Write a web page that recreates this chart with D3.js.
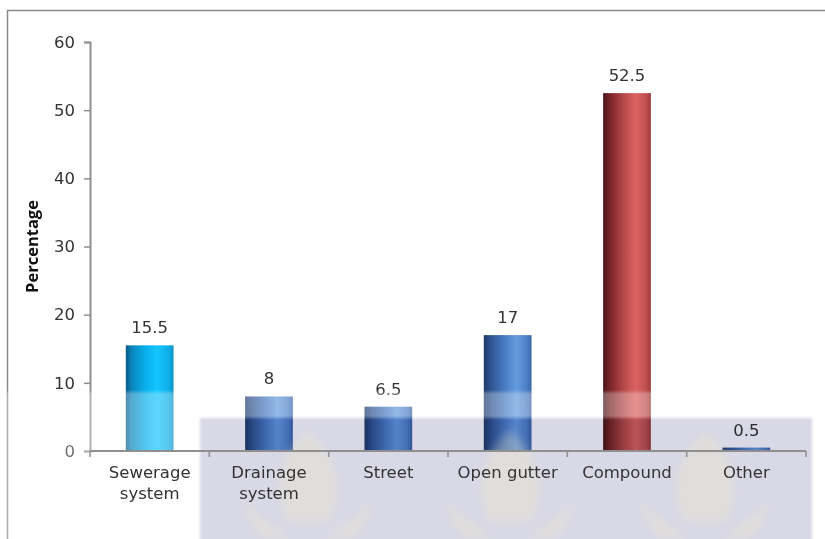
<!DOCTYPE html>
<html>
<head>
<meta charset="utf-8">
<script src="https://cdn.jsdelivr.net/npm/d3@7"></script>
<style>
  html, body { margin: 0; padding: 0; background: #fff; }
  svg { display: block; }
</style>
</head>
<body>
<svg id="chart" width="825" height="539"></svg>
<script>
// Drainage destination of household wastewater (percentage of respondents)
const categories = ["Sewerage system", "Drainage system", "Street", "Open gutter", "Compound", "Other"];
const values = [15.5, 8, 6.5, 17, 52.5, 0.5];
const colorKeys = ["cyan", "blue", "blue", "blue", "red", "blue"];
const yTicks = [0, 10, 20, 30, 40, 50, 60];
const yTitle = "Percentage";

const svg = d3.select("#chart");
const W = 825, H = 539;
const m = { left: 90, right: 19, top: 42, bottom: 88 };
const labelFont = "DejaVu Sans, Verdana, sans-serif";

const x = d3.scaleBand()
  .domain(categories)
  .range([m.left, W - m.right])
  .paddingInner(0.6)
  .paddingOuter(0.3);

const y = d3.scaleLinear()
  .domain([0, 60])
  .range([H - m.bottom, m.top]);

// Frame around the figure
svg.append("path")
  .attr("d", `M7.5,${H} V10.5 H${W}`)
  .attr("fill", "none")
  .attr("stroke", "#8a8a8a")
  .attr("stroke-width", 1.5);

// Horizontal cylinder-like shading for each colour family
const defs = svg.append("defs");
const shades = {
  cyan: [["0%", "#0a5a86"], ["12%", "#0b84bb"], ["40%", "#06aee8"], ["65%", "#15c6ff"], ["90%", "#10aee8"], ["100%", "#0b8fc4"]],
  blue: [["0%", "#1e3a68"], ["15%", "#2f5592"], ["45%", "#4a7dc4"], ["68%", "#649cdf"], ["90%", "#4e80c6"], ["100%", "#3b66a8"]],
  red:  [["0%", "#4a1518"], ["15%", "#7a2629"], ["45%", "#b94a4a"], ["68%", "#dd6262"], ["90%", "#c05050"], ["100%", "#9c3a3c"]]
};
Object.entries(shades).forEach(([k, stops]) => {
  const g = defs.append("linearGradient").attr("id", "g-" + k)
    .attr("x1", "0%").attr("x2", "100%").attr("y1", "0%").attr("y2", "0%");
  stops.forEach(([o, c]) => g.append("stop").attr("offset", o).attr("stop-color", c));
});
defs.append("filter").attr("id", "soft")
  .append("feGaussianBlur").attr("stdDeviation", 1.5);
defs.append("filter").attr("id", "softer")
  .append("feGaussianBlur").attr("stdDeviation", 4);

// Bars
svg.append("g")
  .selectAll("rect")
  .data(categories)
  .join("rect")
  .attr("x", d => x(d))
  .attr("width", x.bandwidth())
  .attr("y", (d, i) => y(values[i]))
  .attr("height", (d, i) => y(0) - y(values[i]))
  .attr("fill", (d, i) => `url(#g-${colorKeys[i]})`);

// Value labels
svg.append("g")
  .selectAll("text")
  .data(categories)
  .join("text")
  .attr("x", d => x(d) + x.bandwidth() / 2)
  .attr("y", (d, i) => y(values[i]) - 12)
  .attr("text-anchor", "middle")
  .attr("font-family", labelFont)
  .attr("font-size", 16.5)
  .attr("fill", "#333")
  .text((d, i) => values[i]);

// Y axis
const yAxis = svg.append("g")
  .attr("transform", `translate(${m.left},0)`)
  .call(d3.axisLeft(y).tickValues(yTicks).tickSize(6).tickPadding(9).tickFormat(d3.format("d")));
yAxis.select(".domain").attr("stroke", "#8f8f8f").attr("stroke-width", 2);
yAxis.selectAll(".tick line").attr("stroke", "#8f8f8f").attr("stroke-width", 1.5);
yAxis.selectAll(".tick text")
  .attr("font-family", labelFont)
  .attr("font-size", 16.5)
  .attr("fill", "#333");

// X axis with ticks at band boundaries
const xAxis = svg.append("g")
  .attr("transform", `translate(0,${y(0)})`);
xAxis.append("line")
  .attr("x1", m.left).attr("x2", W - m.right)
  .attr("stroke", "#8f8f8f").attr("stroke-width", 2);
const bounds = categories.map(d => x(d) - x.step() * x.paddingInner() / 2)
  .concat([W - m.right]);
xAxis.selectAll("line.tk")
  .data(bounds)
  .join("line")
  .attr("class", "tk")
  .attr("x1", d => d).attr("x2", d => d)
  .attr("y1", 0).attr("y2", 6)
  .attr("stroke", "#8f8f8f").attr("stroke-width", 1.5);
xAxis.selectAll("text")
  .data(categories)
  .join("text")
  .attr("x", d => x(d) + x.bandwidth() / 2)
  .attr("y", 27)
  .attr("text-anchor", "middle")
  .attr("font-family", labelFont)
  .attr("font-size", 16.5)
  .attr("fill", "#333")
  .each(function (d) {
    const lines = (d === "Open gutter") ? [d] : d.split(" ");
    d3.select(this).selectAll("tspan")
      .data(lines)
      .join("tspan")
      .attr("x", x(d) + x.bandwidth() / 2)
      .attr("dy", (l, i) => i === 0 ? 0 : 21)
      .text(l => l);
  });

// Y axis title
svg.append("text")
  .attr("transform", `translate(38,${(y(0) + y(60)) / 2}) rotate(-90)`)
  .attr("text-anchor", "middle")
  .attr("font-family", "Liberation Sans Narrow, Open Sans, sans-serif")
  .attr("font-weight", "bold")
  .attr("font-size", 16.5)
  .attr("fill", "#111")
  .text(yTitle);

// Institutional seal band across the lower part of the page
const seal = svg.append("g");
seal.append("path")
  .attr("d", `M0,392 H812 V418 H200 V${H + 10} H0 Z`)
  .attr("fill", "#fff").attr("opacity", 0.3)
  .attr("filter", "url(#soft)");
seal.append("rect")
  .attr("x", 200).attr("y", 418).attr("width", 612).attr("height", H - 418 + 10)
  .attr("fill", "#d8d8e7")
  .style("mix-blend-mode", "multiply")
  .attr("filter", "url(#soft)");
const leafCenters = [308, 510, 705];
const leaf = cx => {
  const p = d3.path();
  // central flame
  p.moveTo(cx, 430);
  p.bezierCurveTo(cx + 26, 455, cx + 38, 482, cx + 22, 522);
  p.lineTo(cx - 22, 522);
  p.bezierCurveTo(cx - 38, 482, cx - 26, 455, cx, 430);
  p.closePath();
  // side lobes
  p.moveTo(cx - 16, 539);
  p.bezierCurveTo(cx - 35, 525, cx - 55, 512, cx - 64, 500);
  p.bezierCurveTo(cx - 62, 522, cx - 50, 535, cx - 42, 539);
  p.closePath();
  p.moveTo(cx + 16, 539);
  p.bezierCurveTo(cx + 35, 525, cx + 55, 512, cx + 64, 500);
  p.bezierCurveTo(cx + 62, 522, cx + 50, 535, cx + 42, 539);
  p.closePath();
  return p.toString();
};
seal.selectAll("path.leaf")
  .data(leafCenters)
  .join("path")
  .attr("class", "leaf")
  .attr("d", d => leaf(d))
  .attr("fill", "#f3ebc0")
  .attr("opacity", 0.3)
  .attr("filter", "url(#softer)");

// Labels stay legible over the seal
svg.node().appendChild(xAxis.node());
</script>
</body>
</html>
